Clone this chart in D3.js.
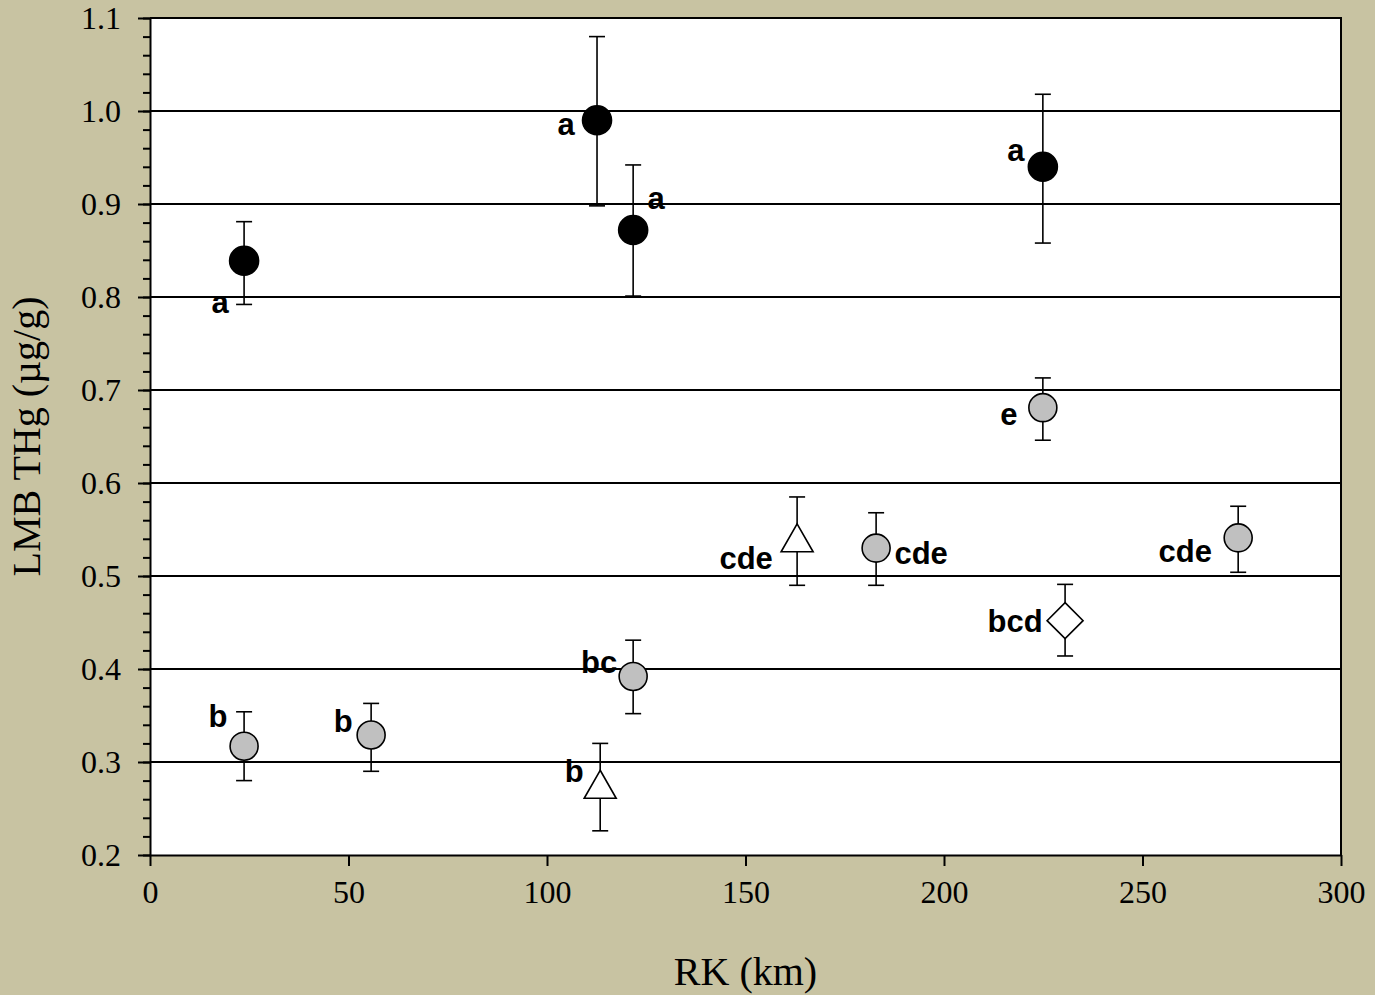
<!DOCTYPE html>
<html>
<head>
<meta charset="utf-8">
<script src="https://cdn.jsdelivr.net/npm/d3@7"></script>
<style>
  html, body { margin: 0; padding: 0; background: #c8c3a2; }
  svg { display: block; }
</style>
</head>
<body>
<script>
// River km of each site, mean LMB THg and error bar ends
const rk = [23.7, 112.6, 121.7, 224.9, 224.9, 163.0, 182.9, 274.1, 230.5, 121.7, 23.7, 55.7, 113.4];
const thg = [0.839, 0.990, 0.872, 0.940, 0.681, 0.540, 0.530, 0.541, 0.452, 0.392, 0.317, 0.329, 0.275];
const thgLo = [0.792, 0.898, 0.801, 0.858, 0.646, 0.490, 0.490, 0.504, 0.414, 0.352, 0.280, 0.290, 0.226];
const thgHi = [0.881, 1.080, 0.942, 1.018, 0.713, 0.585, 0.568, 0.575, 0.491, 0.431, 0.354, 0.363, 0.320];
const kind = ["black", "black", "black", "black", "gray", "triangle", "gray", "gray", "diamond", "gray", "gray", "gray", "triangle"];
const letters = ["a", "a", "a", "a", "e", "cde", "cde", "cde", "bcd", "bc", "b", "b", "b"];

const xTicks = [0, 50, 100, 150, 200, 250, 300];
const yTicks = [0.2, 0.3, 0.4, 0.5, 0.6, 0.7, 0.8, 0.9, 1.0, 1.1];
const gridVals = [0.3, 0.4, 0.5, 0.6, 0.7, 0.8, 0.9, 1.0];

// label offsets from the marker (px)
const labelPos = [
  [-24, 41], [-31, 4], [23, -32], [-27, -17], [-34, 6], [-51, 19], [45, 5],
  [-53, 13], [-50, 1], [-34, -14], [-26, -30], [-28, -14], [-26, -14]
];

const width = 1375, height = 995;
const margin = { top: 18, right: 34, bottom: 140, left: 150 };

const x = d3.scaleLinear().domain([0, 300]).range([margin.left, width - margin.right]);
const y = d3.scaleLinear().domain([0.2, 1.1]).range([height - margin.bottom, margin.top]);

const svg = d3.select("body").append("svg")
  .attr("width", width)
  .attr("height", height);

// plot area
svg.append("rect")
  .attr("x", x(0)).attr("y", y(1.1))
  .attr("width", x(300) - x(0)).attr("height", y(0.2) - y(1.1))
  .attr("fill", "white");

// gridlines
svg.append("g")
  .selectAll("line")
  .data(gridVals)
  .join("line")
  .attr("x1", x(0)).attr("x2", x(300))
  .attr("y1", d => y(d)).attr("y2", d => y(d))
  .attr("stroke", "black").attr("stroke-width", 2);

// frame top / right
svg.append("path")
  .attr("d", `M${x(0)},${y(1.1)}H${x(300)}V${y(0.2)}`)
  .attr("fill", "none").attr("stroke", "black").attr("stroke-width", 2);

const tickFont = "'Liberation Serif', 'Times New Roman', serif";

// minor y ticks
const minorY = d3.range(0.2, 1.1001, 0.02);
svg.append("g")
  .attr("transform", `translate(${x(0)},0)`)
  .call(d3.axisLeft(y).tickValues(minorY).tickSize(7).tickFormat("").tickSizeOuter(0))
  .call(g => g.select(".domain").remove())
  .call(g => g.selectAll(".tick line").attr("stroke-width", 2));

// major y axis
svg.append("g")
  .attr("transform", `translate(${x(0)},0)`)
  .call(d3.axisLeft(y).tickValues(yTicks).tickSize(12).tickPadding(17).tickFormat(d3.format(".1f")).tickSizeOuter(0))
  .call(g => g.select(".domain").attr("stroke-width", 2))
  .call(g => g.selectAll(".tick line").attr("stroke-width", 2))
  .call(g => g.selectAll(".tick text")
    .attr("font-family", tickFont).attr("font-size", 32).attr("fill", "black"));

// x axis
svg.append("g")
  .attr("transform", `translate(0,${y(0.2)})`)
  .call(d3.axisBottom(x).tickValues(xTicks).tickSize(11).tickPadding(14).tickFormat(d3.format("d")).tickSizeOuter(0))
  .call(g => g.select(".domain").attr("stroke-width", 2))
  .call(g => g.selectAll(".tick line").attr("stroke-width", 2))
  .call(g => g.selectAll(".tick text")
    .attr("font-family", tickFont).attr("font-size", 32).attr("fill", "black"));

// axis titles
svg.append("text")
  .attr("x", (x(0) + x(300)) / 2).attr("y", 985)
  .attr("text-anchor", "middle")
  .attr("font-family", tickFont).attr("font-size", 40)
  .text("RK (km)");

svg.append("text")
  .attr("transform", `translate(40,${(y(0.2) + y(1.1)) / 2}) rotate(-90)`)
  .attr("text-anchor", "middle")
  .attr("font-family", tickFont).attr("font-size", 40)
  .text("LMB THg (µg/g)");

const pts = rk.map((d, i) => ({
  x: d, y: thg[i], lo: thgLo[i], hi: thgHi[i], kind: kind[i], letter: letters[i], off: labelPos[i]
}));

// error bars
const eb = svg.append("g").attr("stroke", "black").attr("stroke-width", 1.6).attr("fill", "none");
pts.forEach(p => {
  const cx = x(p.x);
  eb.append("line").attr("x1", cx).attr("x2", cx).attr("y1", y(p.lo)).attr("y2", y(p.hi));
  eb.append("line").attr("x1", cx - 8).attr("x2", cx + 8).attr("y1", y(p.lo)).attr("y2", y(p.lo));
  eb.append("line").attr("x1", cx - 8).attr("x2", cx + 8).attr("y1", y(p.hi)).attr("y2", y(p.hi));
});

// markers
const mk = svg.append("g");
pts.forEach(p => {
  const cx = x(p.x), cy = y(p.y);
  if (p.kind === "black" || p.kind === "gray") {
    mk.append("circle")
      .attr("cx", cx).attr("cy", cy)
      .attr("r", p.kind === "black" ? 14.5 : 14)
      .attr("fill", p.kind === "black" ? "black" : "#c0c0c0")
      .attr("stroke", "black").attr("stroke-width", 1.6);
  } else if (p.kind === "triangle") {
    mk.append("path")
      .attr("d", `M${cx},${cy - 15}L${cx + 16},${cy + 13}L${cx - 16},${cy + 13}Z`)
      .attr("fill", "white").attr("stroke", "black").attr("stroke-width", 1.6);
  } else {
    mk.append("path")
      .attr("d", `M${cx},${cy - 18}L${cx + 18},${cy}L${cx},${cy + 18}L${cx - 18},${cy}Z`)
      .attr("fill", "white").attr("stroke", "black").attr("stroke-width", 1.6);
  }
});

// significance letters
svg.append("g")
  .selectAll("text")
  .data(pts)
  .join("text")
  .attr("x", d => x(d.x) + d.off[0])
  .attr("y", d => y(d.y) + d.off[1])
  .attr("dy", "0.35em")
  .attr("text-anchor", "middle")
  .attr("font-family", "'Liberation Sans', Arial, sans-serif")
  .attr("font-weight", "bold")
  .attr("font-size", 31)
  .text(d => d.letter);
</script>
</body>
</html>
